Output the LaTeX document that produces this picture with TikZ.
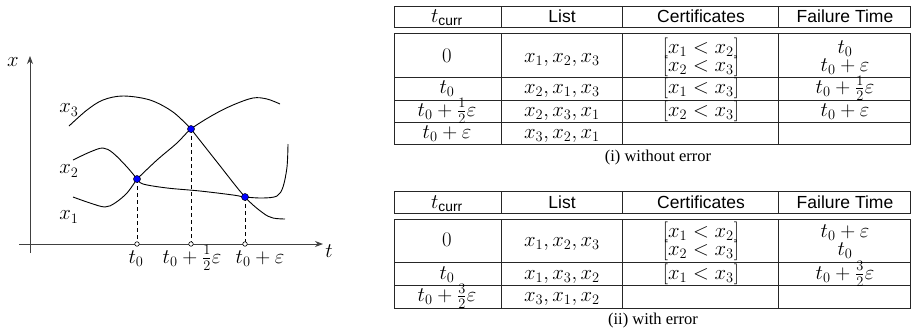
\documentclass[tikz,border=0pt]{standalone}
\usepackage{fontspec}
\setsansfont{Liberation Sans}
\newfontfamily\capfont{Liberation Serif}
\usetikzlibrary{arrows.meta}
\newcommand\myfr[2]{{\textstyle\frac{#1}{#2}}}
\begin{document}
\begin{tikzpicture}[x=1pt,y=-1pt,font=\fontsize{17.28}{20}\selectfont,
  tline/.style={draw=black!85, line width=0.9pt},
  hdr/.style={font=\sffamily\fontsize{17.5}{20}\selectfont, inner sep=0pt, anchor=base},
  cell/.style={inner sep=0pt, anchor=base, scale=1.2},
  captext/.style={font=\capfont\fontsize{16.5}{19}\selectfont, inner sep=0pt, anchor=base},
  curve/.style={line width=0.9pt, draw=black},
  axis/.style={draw=black!75, line width=0.9pt, -{Stealth[length=8pt,width=6pt]}},
  dot/.style={circle, fill=blue, draw=black, line width=0.5pt, minimum size=7pt, inner sep=0pt},
  tickmark/.style={circle, fill=white, draw=black, line width=0.6pt, minimum size=4.5pt, inner sep=0pt},
  guide/.style={line width=0.8pt, dash pattern=on 4pt off 3pt}
]
\useasboundingbox (0,0) rectangle (911,330);

% ---------------- plot ----------------
\coordinate (ybot) at (30,253);
\coordinate (ytop) at (30,56);
\coordinate (xl) at (19,244);
\coordinate (xr) at (323,244);
\draw[axis] (ybot) -- (ytop);
\draw[axis] (xl) -- (xr);
\node[scale=1.2] (xlab) at (13,62) {$x$};
\node[scale=1.2] (tlab) at (329,251) {$t$};

% curves
\draw[curve] plot[smooth, tension=0.55] coordinates {(69,126) (87,110) (103,100) (123,96) (150,100) (173,112) (191,129)};
\draw[curve] plot[smooth, tension=0.55] coordinates {(191,129) (217,162) (245,197) (263,213) (273,218) (285,219)};
\draw[curve] plot[smooth, tension=0.55] coordinates {(73,160) (90,152) (103,148) (113,153) (127,167) (137,179)};
\draw[curve] plot[smooth, tension=0.55] coordinates {(137,179) (143,184) (167,188) (200,191) (233,195) (245,197) (263,198) (277,196) (283,187) (287,167) (288,144)};
\draw[curve] plot[smooth, tension=0.55] coordinates {(73,197) (90,203) (105,207) (115,203) (127,193) (137,179)};
\draw[curve] plot[smooth, tension=0.55] coordinates {(137,179) (157,160) (177,143) (191,129) (213,115) (233,105) (253,98) (267,99) (280,104)};

\node[scale=1.2] (lx3) at (69,110) {$x_3$};
\node[scale=1.2] (lx2) at (69,171) {$x_2$};
\node[scale=1.2] (lx1) at (69,217) {$x_1$};

\coordinate (tk1) at (137,244);
\coordinate (tk2) at (191,244);
\coordinate (tk3) at (245,244);
\coordinate (p1) at (137,179);
\coordinate (p2) at (191,129);
\coordinate (p3) at (245,197);
\draw[guide] (p1) -- (tk1);
\draw[guide] (p2) -- (tk2);
\draw[guide] (p3) -- (tk3);
\node[tickmark] (k1) at (tk1) {};
\node[tickmark] (k2) at (tk2) {};
\node[tickmark] (k3) at (tk3) {};
\node[dot] (d1) at (p1) {};
\node[dot] (d2) at (p2) {};
\node[dot] (d3) at (p3) {};

\node[cell] (lt1) at (136,263) {$t_0$};
\node[cell] (lt2) at (192,263) {$t_0+\myfr12\varepsilon$};
\node[cell] (lt3) at (260,263) {$t_0+\varepsilon$};

% ---------------- table 1 ----------------
\draw[tline] (394,6) rectangle (910,27);
\draw[tline] (394,33) rectangle (910,144);
\foreach \x in {501,622.5,778} {
  \draw[tline] (\x,6) -- (\x,27);
  \draw[tline] (\x,33) -- (\x,144);
}
\foreach \y in {77,100,122} \draw[tline] (394,\y) -- (910,\y);

\node[cell] (a00) at (447,22.5) {$t_{\mbox{\sffamily\fontsize{11.5}{13}\selectfont curr}}$};
\node[hdr] (a01) at (562,22.5) {List};
\node[hdr] (a02) at (701,22.5) {Certificates};
\node[hdr] (a03) at (845,22.5) {Failure Time};

\node[cell] (a10) at (447,62) {$0$};
\node[cell] (a11) at (562,62) {$x_1, x_2, x_3$};
\node[cell] (a12) at (701,53) {$[x_1 < x_2]$};
\node[cell] (a12b) at (701,71.5) {$[x_2 < x_3]$};
\node[cell] (a13) at (845,53) {$t_0$};
\node[cell] (a13b) at (845,71.5) {$t_0+\varepsilon$};

\node[cell] (a20) at (447,93.5) {$t_0$};
\node[cell] (a21) at (562,93.5) {$x_2, x_1, x_3$};
\node[cell] (a22) at (701,93.5) {$[x_1 < x_3]$};
\node[cell] (a23) at (845,93.5) {$t_0+\myfr12\varepsilon$};

\node[cell] (a30) at (447,116) {$t_0+\myfr12\varepsilon$};
\node[cell] (a31) at (562,116) {$x_2, x_3, x_1$};
\node[cell] (a32) at (701,116) {$[x_2 < x_3]$};
\node[cell] (a33) at (845,116) {$t_0+\varepsilon$};

\node[cell] (a40) at (447,138.5) {$t_0+\varepsilon$};
\node[cell] (a41) at (562,138.5) {$x_3, x_2, x_1$};

\node[captext] (cap1) at (658,161) {(i) without error};

% ---------------- table 2 ----------------
\draw[tline] (394,191) rectangle (910,213);
\draw[tline] (394,219) rectangle (910,308);
\foreach \x in {501,622.5,778} {
  \draw[tline] (\x,191) -- (\x,213);
  \draw[tline] (\x,219) -- (\x,308);
}
\foreach \y in {262,285} \draw[tline] (394,\y) -- (910,\y);

\node[cell] (b00) at (447,208) {$t_{\mbox{\sffamily\fontsize{11.5}{13}\selectfont curr}}$};
\node[hdr] (b01) at (562,208) {List};
\node[hdr] (b02) at (701,208) {Certificates};
\node[hdr] (b03) at (845,208) {Failure Time};

\node[cell] (b10) at (447,246) {$0$};
\node[cell] (b11) at (562,246) {$x_1, x_2, x_3$};
\node[cell] (b12) at (701,237) {$[x_1 < x_2]$};
\node[cell] (b12b) at (701,255) {$[x_2 < x_3]$};
\node[cell] (b13) at (845,237) {$t_0+\varepsilon$};
\node[cell] (b13b) at (845,255) {$t_0$};

\node[cell] (b20) at (447,279) {$t_0$};
\node[cell] (b21) at (562,279) {$x_1, x_3, x_2$};
\node[cell] (b22) at (701,279) {$[x_1 < x_3]$};
\node[cell] (b23) at (845,279) {$t_0+\myfr32\varepsilon$};

\node[cell] (b30) at (447,301.5) {$t_0+\myfr32\varepsilon$};
\node[cell] (b31) at (562,301.5) {$x_3, x_1, x_2$};

\node[captext] (cap2) at (653,324) {(ii) with error};
\end{tikzpicture}
\end{document}
